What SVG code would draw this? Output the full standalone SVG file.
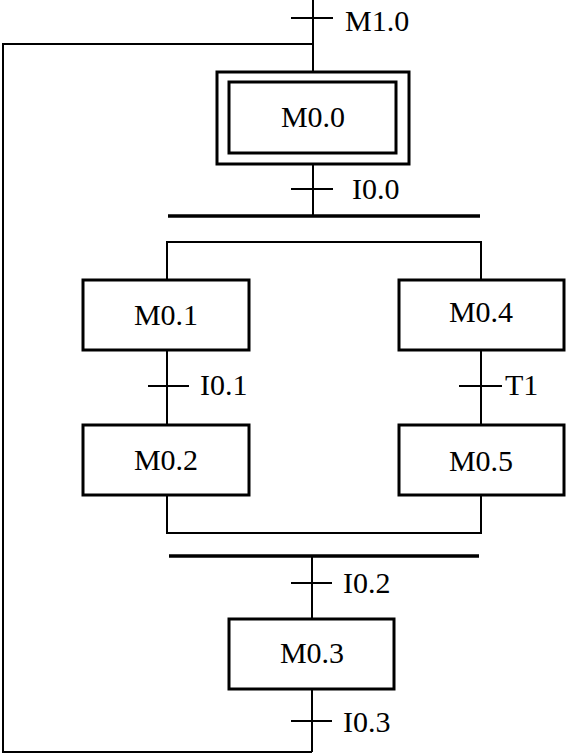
<svg xmlns="http://www.w3.org/2000/svg" width="566" height="754" viewBox="0 0 566 754">
<style>
.ln{stroke:#000;stroke-width:2;fill:none}
.bar{stroke:#000;stroke-width:3.5;fill:none}
.box{stroke:#000;stroke-width:3;fill:#fff}
text{font-family:'Liberation Serif','Times New Roman',serif;font-size:30px;fill:#000}
.c{text-anchor:middle}
</style>
<rect width="566" height="754" fill="#fff"/>
<g id="connectors">
<path class="ln" d="M313 0V72"/>
<path class="ln" d="M313 44H3V752H312"/>
<path class="ln" d="M313 164V216"/>
<path class="bar" d="M168 216H480"/>
<path class="ln" d="M167 280V242H481V280"/>
<path class="ln" d="M167 350V425"/>
<path class="ln" d="M481 350V425"/>
<path class="ln" d="M167 495V533H481V495"/>
<path class="bar" d="M169 556H479"/>
<path class="ln" d="M312 556V619"/>
<path class="ln" d="M312 689V752"/>
<path class="ln" d="M291 18H333M291 189H333M148 386H189M459 386H502M291 583H332M291 721H332"/>
<text x="345" y="31">M1.0</text>
<text x="352" y="199">I0.0</text>
<text x="200" y="395">I0.1</text>
<text x="505" y="395">T1</text>
<text x="343" y="593">I0.2</text>
<text x="343" y="732">I0.3</text>
</g>
<g id="M0.0">
<rect class="box" x="217" y="72" width="192" height="92"/>
<rect class="box" x="229" y="82" width="167" height="71"/>
<text class="c" x="313" y="127">M0.0</text>
</g>
<g id="M0.1">
<rect class="box" x="83" y="280" width="166" height="70"/>
<text class="c" x="166" y="325">M0.1</text>
</g>
<g id="M0.4">
<rect class="box" x="399" y="280" width="165" height="70"/>
<text class="c" x="481" y="322">M0.4</text>
</g>
<g id="M0.2">
<rect class="box" x="83" y="425" width="166" height="70"/>
<text class="c" x="166" y="470">M0.2</text>
</g>
<g id="M0.5">
<rect class="box" x="399" y="425" width="165" height="70"/>
<text class="c" x="481" y="471">M0.5</text>
</g>
<g id="M0.3">
<rect class="box" x="229" y="619" width="165" height="70"/>
<text class="c" x="312" y="663">M0.3</text>
</g>
</svg>
